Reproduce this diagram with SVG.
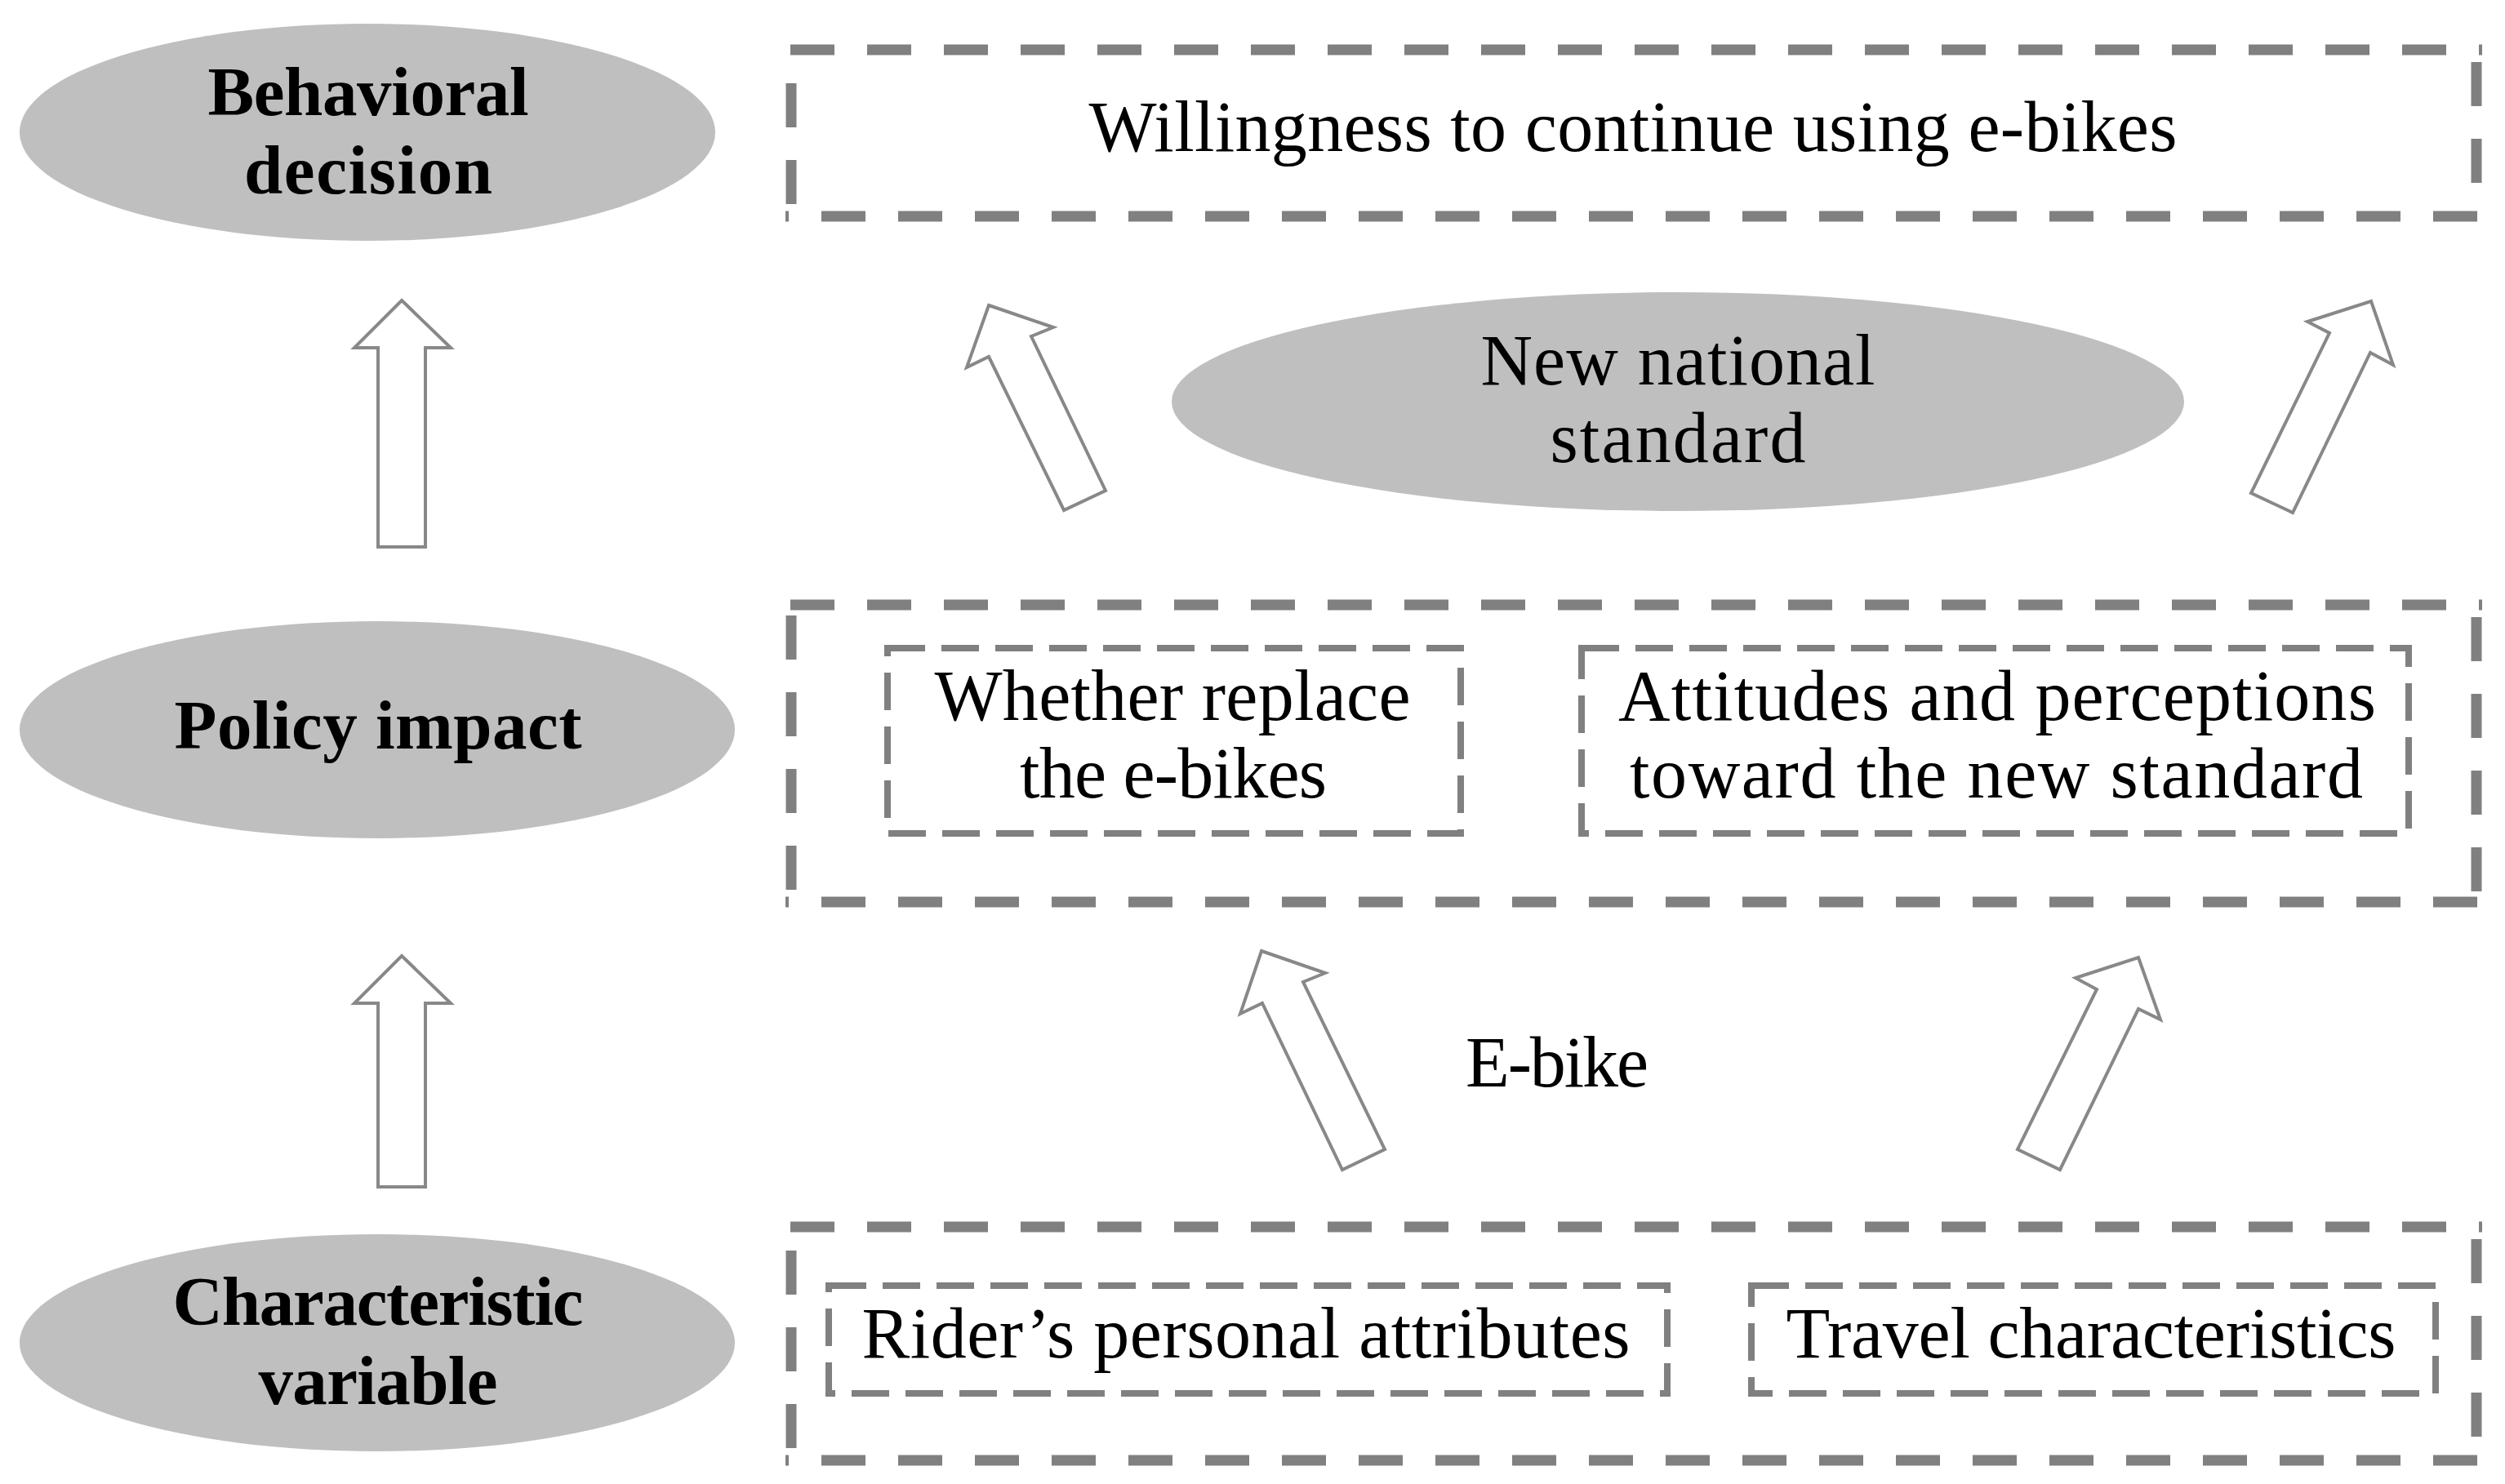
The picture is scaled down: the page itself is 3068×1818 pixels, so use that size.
<svg xmlns="http://www.w3.org/2000/svg" width="3068" height="1818" viewBox="0 0 3068 1818">
<style>
.ell{fill:#bfbfbf;stroke:none}
.bt{font-family:"Liberation Serif","DejaVu Serif",serif;font-weight:bold;font-size:85px;fill:#000;text-anchor:middle}
.rt{font-family:"Liberation Serif","DejaVu Serif",serif;font-size:88px;fill:#000;text-anchor:middle}
.ob{stroke:#808080;stroke-width:13;stroke-dasharray:54 40;fill:none}
.ib{stroke:#808080;stroke-width:8;stroke-dasharray:46 20;fill:none}
.arr{fill:#fff;stroke:#888;stroke-width:4;stroke-linejoin:miter}
</style>
<rect width="3068" height="1818" fill="#fff"/>

<g id="behavioral-decision">
<ellipse class="ell" cx="450" cy="162" rx="426" ry="133"/>
<text class="bt" x="451" y="141" textLength="393">Behavioral</text>
<text class="bt" x="451" y="237" textLength="304">decision</text>
</g>

<g id="policy-impact">
<ellipse class="ell" cx="462" cy="894" rx="438" ry="133"/>
<text class="bt" x="463" y="917" textLength="499">Policy impact</text>
</g>

<g id="characteristic-variable">
<ellipse class="ell" cx="462" cy="1645" rx="438" ry="133"/>
<text class="bt" x="463" y="1623" textLength="503">Characteristic</text>
<text class="bt" x="463" y="1720" textLength="293">variable</text>
</g>

<g id="willingness">
<line class="ob" x1="968" y1="61" x2="3040" y2="61"/>
<line class="ob" x1="3033" y1="76" x2="3033" y2="258"/>
<line class="ob" x1="3034" y1="265" x2="962" y2="265"/>
<line class="ob" x1="969" y1="250" x2="969" y2="68"/>
<text class="rt" x="2000" y="185" textLength="1333">Willingness to continue using e-bikes</text>
</g>

<g id="new-national-standard">
<ellipse class="ell" cx="2055" cy="492" rx="620" ry="134"/>
<text class="rt" x="2055" y="471" textLength="483">New national</text>
<text class="rt" x="2055" y="566" textLength="313">standard</text>
</g>

<g id="policy-box">
<line class="ob" x1="968" y1="741" x2="3040" y2="741"/>
<line class="ob" x1="3033" y1="756" x2="3033" y2="1098"/>
<line class="ob" x1="3034" y1="1105" x2="962" y2="1105"/>
<line class="ob" x1="969" y1="1090" x2="969" y2="748"/>
</g>

<g id="whether-replace">
<rect class="ib" x="1087" y="794" width="702" height="227"/>
<text class="rt" x="1436" y="882" textLength="583">Whether replace</text>
<text class="rt" x="1437" y="977" textLength="376">the e-bikes</text>
</g>

<g id="attitudes">
<rect class="ib" x="1937" y="794" width="1013" height="227"/>
<text class="rt" x="2446" y="882" textLength="928">Attitudes and perceptions</text>
<text class="rt" x="2445" y="977" textLength="898">toward the new standard</text>
</g>

<g id="ebike-label">
<text class="rt" x="1907" y="1331" textLength="224">E-bike</text>
</g>

<g id="characteristic-box">
<line class="ob" x1="968" y1="1503" x2="3040" y2="1503"/>
<line class="ob" x1="3033" y1="1518" x2="3033" y2="1782"/>
<line class="ob" x1="3034" y1="1789" x2="962" y2="1789"/>
<line class="ob" x1="969" y1="1774" x2="969" y2="1510"/>
</g>

<g id="rider-attributes">
<rect class="ib" x="1015" y="1575" width="1027" height="132"/>
<text class="rt" x="1526" y="1663" textLength="941">Rider’s personal attributes</text>
</g>

<g id="travel-characteristics">
<rect class="ib" x="2145" y="1575" width="838" height="132"/>
<text class="rt" x="2561" y="1663" textLength="747">Travel characteristics</text>
</g>

<g id="connectors">
<polygon class="arr" points="492,368 552,426 521,426 521,670 463,670 463,426 434,426"/>
<polygon class="arr" points="492,1171 552,1229 521,1229 521,1454 463,1454 463,1229 434,1229"/>
<polygon class="arr" points="1211,374 1290,401 1263,412 1354,601 1303,625 1211,437 1184,450"/>
<polygon class="arr" points="2904,369 2931,447 2903,432 2808,628 2757,604 2853,408 2826,394"/>
<polygon class="arr" points="1545,1165 1623,1192 1596,1203 1696,1408 1644,1433 1546,1229 1519,1242"/>
<polygon class="arr" points="2619,1173 2646,1249 2619,1236 2523,1433 2471,1408 2568,1212 2542,1198"/>
</g>
</svg>
